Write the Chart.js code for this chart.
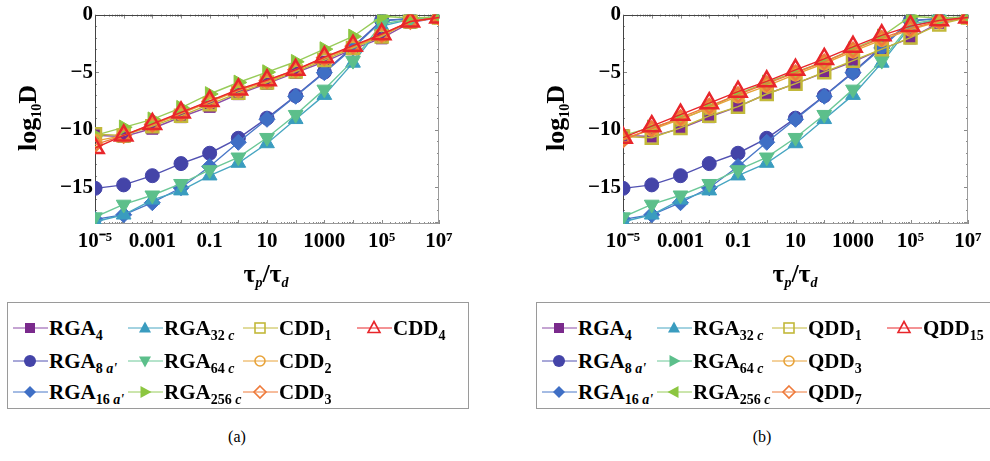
<!DOCTYPE html>
<html><head><meta charset="utf-8">
<script src="https://cdn.jsdelivr.net/npm/chart.js@4"></script>
<style>
body{margin:0;width:990px;height:461px;background:#fff;position:relative;overflow:hidden;font-family:"Liberation Serif","Times New Roman",serif;color:#000;}
canvas.cv{position:absolute;top:0;}
.ytitle{position:absolute;font-weight:bold;font-size:26px;transform:translate(-50%,-50%) rotate(-90deg);white-space:nowrap;}
.xtitle{position:absolute;font-weight:bold;font-size:26px;transform:translate(-50%,-50%);white-space:nowrap;}
.xtitle i{font-style:italic}
.box{position:absolute;top:302px;height:107px;border:1px solid #9a9a9a;box-sizing:border-box;}
.item{position:absolute;height:30px;display:flex;align-items:center;font-weight:bold;font-size:21px;white-space:nowrap;transform:translateY(-50%);}
.item svg{margin-right:1px;flex:none}
.item span{display:inline-block;line-height:24px}
sub{font-size:14px;vertical-align:-5px;line-height:0}
.cap{position:absolute;font-size:16px;transform:translate(-50%,-50%)}
</style></head>
<body>
<canvas id="ca" class="cv" width="460" height="260" style="left:0px"></canvas>
<canvas id="cb" class="cv" width="460" height="260" style="left:528px"></canvas>
<div class="ytitle" style="left:28px;top:118px">log<sub>10</sub>D</div>
<div class="ytitle" style="left:556px;top:118px">log<sub>10</sub>D</div>
<div class="xtitle" style="left:266px;top:274px">τ<sub><i>p</i></sub>/τ<sub><i>d</i></sub></div>
<div class="xtitle" style="left:795px;top:274px">τ<sub><i>p</i></sub>/τ<sub><i>d</i></sub></div>
<div class="box" style="left:7px;width:462px"></div>
<div class="box" style="left:536px;width:470px"></div>
<div id="legA"></div><div id="legB"></div>
<div class="cap" style="left:237px;top:437px">(a)</div>
<div class="cap" style="left:762px;top:437px">(b)</div>
<script>
// ---- data ----
const tauRatio = [1e-5,1e-4,1e-3,1e-2,1e-1,1,10,100,1000,1e4,1e5,1e6,1e7];
const xTickValues = [1e-5,1e-3,1e-1,10,1000,1e5,1e7];
const xTickLabels = ['10\u207B\u2075','0.001','0.1','10','1000','10\u2075','10\u2077'];
const yTickValues = [0,-5,-10,-15];
const yTickLabels = ['0','\u22125','\u221210','\u221215'];

const rga4    = [-10.5,-10.6,-9.9,-8.9,-8.0,-6.9,-6.0,-5.05,-4.1,-3.0,-2.05,-0.7,-0.25];
const rga8a   = [-15.1,-14.8,-14.0,-12.95,-12.05,-10.75,-9.0,-7.05,-5.0,-2.8,-0.5,-0.35,-0.2];
const rga16a  = [-17.8,-17.4,-16.35,-15.05,-13.2,-11.1,-9.1,-7.1,-5.05,-2.9,-0.55,-0.35,-0.2];
const rga32c  = [-18.0,-17.4,-16.1,-15.3,-14.0,-12.9,-11.2,-9.1,-7.0,-4.2,-1.0,-0.4,-0.2];
const rga64c  = [-17.6,-16.5,-15.7,-14.7,-13.5,-12.4,-10.7,-8.7,-6.5,-4.0,-0.8,-0.4,-0.2];
const rga256c = [-10.5,-9.8,-9.1,-8.1,-6.9,-5.9,-5.0,-4.1,-3.0,-1.9,-0.15,-0.3,-0.2];
const cdd1    = [-10.4,-10.5,-9.7,-8.8,-7.8,-6.8,-5.9,-4.95,-3.95,-2.9,-1.9,-0.6,-0.25];
const cdd2    = [-11.0,-10.5,-9.6,-8.6,-7.6,-6.6,-5.8,-4.85,-3.8,-2.8,-1.8,-0.6,-0.25];
const cdd3    = [-11.3,-10.5,-9.55,-8.55,-7.55,-6.55,-5.75,-4.8,-3.75,-2.75,-1.75,-0.6,-0.25];
const cdd4    = [-11.6,-10.5,-9.5,-8.5,-7.5,-6.5,-5.7,-4.8,-3.7,-2.7,-1.7,-0.6,-0.25];
const qdd1    = [-10.6,-10.7,-9.85,-8.8,-8.0,-6.9,-6.0,-5.0,-4.0,-3.0,-2.0,-0.85,-0.25];
const qdd3    = [-10.8,-10.0,-9.1,-8.1,-7.1,-6.2,-5.2,-4.25,-3.2,-2.2,-1.3,-0.6,-0.25];
const qdd7    = [-10.9,-9.9,-8.95,-7.95,-6.95,-6.0,-5.05,-4.1,-3.05,-2.05,-1.2,-0.55,-0.25];
const qdd15   = [-10.7,-9.7,-8.7,-7.7,-6.7,-5.8,-4.8,-3.85,-2.8,-1.8,-1.0,-0.5,-0.25];

// ---- styles ----
const ST = {
  rga4:   {color:'#7A2A8C', line:'#8B4BA6', shape:'rect', rot:0, r:8, fill:true},
  rga8a:  {color:'#4444A8', line:'#5252B2', shape:'circle', rot:0, r:7, fill:true},
  rga16a: {color:'#3F6FC5', line:'#4A78C8', shape:'rectRot', rot:0, r:8, fill:true},
  rga32c: {color:'#3A9CBF', line:'#48A6C2', shape:'triangle', rot:0, r:8.5, fill:true},
  rga64c: {color:'#5CBF8B', line:'#6CC898', shape:'triangle', rot:180, r:8.5, fill:true},
  rga256c:{color:'#8CC640', line:'#98CC5A', shape:'triangle', rot:90, r:8.5, fill:true},
  o1:     {color:'#C2B83A', line:'#C2B83A', shape:'rect', rot:0, r:8.5, fill:false},
  o2:     {color:'#E8A33A', line:'#E8A33A', shape:'circle', rot:0, r:6, fill:false},
  o3:     {color:'#EE7A3A', line:'#EE7A3A', shape:'rectRot', rot:0, r:7, fill:false},
  o4:     {color:'#E8262B', line:'#E8262B', shape:'triangle', rot:0, r:10, fill:false}
};

const seriesA = [
  {label:'RGA4', data:rga4, st:ST.rga4},
  {label:'RGA8a', data:rga8a, st:ST.rga8a},
  {label:'RGA16a', data:rga16a, st:ST.rga16a},
  {label:'RGA32c', data:rga32c, st:ST.rga32c},
  {label:'RGA64c', data:rga64c, st:ST.rga64c},
  {label:'RGA256c', data:rga256c, st:ST.rga256c},
  {label:'CDD1', data:cdd1, st:ST.o1},
  {label:'CDD2', data:cdd2, st:ST.o2},
  {label:'CDD3', data:cdd3, st:ST.o3},
  {label:'CDD4', data:cdd4, st:ST.o4}
];
const seriesB = [
  {label:'RGA4', data:rga4, st:ST.rga4},
  {label:'RGA8a', data:rga8a, st:ST.rga8a},
  {label:'RGA16a', data:rga16a, st:ST.rga16a},
  {label:'RGA32c', data:rga32c, st:ST.rga32c},
  {label:'RGA64c', data:rga64c, st:ST.rga64c},
  {label:'RGA256c', data:rga256c, st:ST.rga256c},
  {label:'QDD1', data:qdd1, st:ST.o1},
  {label:'QDD3', data:qdd3, st:ST.o2},
  {label:'QDD7', data:qdd7, st:ST.o3},
  {label:'QDD15', data:qdd15, st:ST.o4}
];

const framePlugin = {
  id:'frame',
  beforeDatasetsDraw(chart){
    const {ctx, chartArea:a, scales:{x,y}} = chart;
    ctx.save();
    ctx.lineWidth = 1;
    ctx.strokeStyle = '#8a8a8a';
    const ln=(x1,y1,x2,y2)=>{ctx.beginPath();ctx.moveTo(x1,y1);ctx.lineTo(x2,y2);ctx.stroke();};
    for(let e=-5;e<=7;e++){
      for(let m=1;m<10;m++){
        const v=m*Math.pow(10,e);
        if(v>1.0001e7) break;
        const px=Math.round(x.getPixelForValue(v))+0.5;
        const len = m===1?4:2;
        ln(px,a.top,px,a.top+len); ln(px,a.bottom,px,a.bottom-len);
      }
    }
    for(let v=0; v>=-18; v--){
      const py=Math.round(y.getPixelForValue(v))+0.5;
      const len = v%5===0?4:2;
      ln(a.left,py,a.left+len,py); ln(a.right,py,a.right-len,py);
    }
    const L=Math.round(a.left)+0.5, R=Math.round(a.right)-0.5, T=Math.round(a.top)+0.5, B=Math.round(a.bottom)-0.5;
    ctx.strokeStyle='#9a9a9a'; ln(R,T,R,B); ln(L,B,R,B);
    ctx.strokeStyle='#444'; ln(L,T,R,T); ln(L,T,L,B);
    ctx.restore();
  }
};

function idxOfLog(arr,v){ for(let i=0;i<arr.length;i++){ if(Math.abs(Math.log10(arr[i])-Math.log10(v))<1e-6) return i; } return -1; }

function makeChart(id, series, padRight){
  return new Chart(document.getElementById(id), {
    type:'line',
    data:{datasets: series.map((s,i)=>({
      label:s.label,
      data: tauRatio.map((t,k)=>({x:t, y:s.data[k]})),
      borderColor:s.st.line,
      backgroundColor: s.st.fill ? s.st.color : 'rgba(0,0,0,0)',
      pointBackgroundColor: s.st.fill ? s.st.color : 'rgba(0,0,0,0)',
      pointBorderColor: s.st.color,
      pointBorderWidth: s.st.fill ? 1 : 2.5,
      pointStyle: s.st.shape,
      pointRotation: s.st.rot,
      pointRadius: s.st.r,
      borderWidth: 1.4,
      tension: 0,
      fill: false,
      clip: 0,
      order: series.length - i
    }))},
    options:{
      responsive:false, animation:false, events:[],
      layout:{padding:{top:12, right:padRight, left:0, bottom:0}},
      plugins:{legend:{display:false}, tooltip:{enabled:false}},
      scales:{
        x:{type:'logarithmic', min:1e-5, max:1e7,
           grid:{display:false, drawTicks:false}, border:{display:false},
           afterBuildTicks(sc){ sc.ticks = xTickValues.map(v=>({value:v, major:true})); },
           afterFit(sc){ sc.height = 36; },
           ticks:{autoSkip:false, maxRotation:0, minRotation:0, padding:5, color:'#000',
             font:{family:'Liberation Serif', size:21, weight:'bold'},
             callback:(v)=>{ const i=idxOfLog(xTickValues,v); return i>=0?xTickLabels[i]:''; }}
        },
        y:{type:'linear', min:-18.2, max:0,
           grid:{display:false, drawTicks:false}, border:{display:false},
           afterBuildTicks(sc){ sc.ticks = yTickValues.map(v=>({value:v})); },
           afterFit(sc){ sc.width = 95; },
           ticks:{padding:2, color:'#000', font:{family:'Liberation Serif', size:21, weight:'bold'},
             callback:(v)=>{ const i=yTickValues.indexOf(v); return i>=0?yTickLabels[i]:''; }}
        }
      }
    },
    plugins:[framePlugin]
  });
}

makeChart('ca', seriesA, 21);
makeChart('cb', seriesB, 20);

// ---- legends ----
function symbolSVG(st, shapeOverride, rotOverride){
  const shape = shapeOverride || st.shape;
  const rot = rotOverride!==undefined ? rotOverride : st.rot;
  const fill = st.fill ? st.color : 'none';
  const sw = st.fill ? 0 : 1.6;
  let mark='';
  const cx=17, cy=15;
  if(shape==='rect') mark=`<rect x="${cx-5}" y="${cy-5}" width="10" height="10" fill="${fill}" stroke="${st.color}" stroke-width="${sw}"/>`;
  else if(shape==='circle') mark=`<circle cx="${cx}" cy="${cy}" r="${st.fill?6:5}" fill="${fill}" stroke="${st.color}" stroke-width="${sw}"/>`;
  else if(shape==='rectRot') mark=`<polygon points="${cx},${cy-6} ${cx+6},${cy} ${cx},${cy+6} ${cx-6},${cy}" fill="${fill}" stroke="${st.color}" stroke-width="${sw}"/>`;
  else if(shape==='triangle') mark=`<polygon transform="rotate(${rot} ${cx} ${cy})" points="${cx},${cy-6.5} ${cx+6},${cy+4.5} ${cx-6},${cy+4.5}" fill="${fill}" stroke="${st.color}" stroke-width="${sw}"/>`;
  return `<svg width="35" height="30" viewBox="0 0 35 30"><line x1="0" y1="15" x2="35" y2="15" stroke="${st.line}" stroke-width="1"/>${mark}</svg>`;
}
function buildLegend(elId, items){
  const el=document.getElementById(elId);
  el.innerHTML = items.map(it=>`<div class="item" style="left:${it.x}px;top:${it.y}px">${symbolSVG(it.st,it.shape,it.rot)}<span>${it.html}</span></div>`).join('');
}
const rowsY=[328,361,392];
const colsA=[13,128,243,357];
const colsB=[542,657,772,887];
const legTextA=[
  ['RGA<sub>4</sub>','RGA<sub>32 <i>c</i></sub>','CDD<sub>1</sub>','CDD<sub>4</sub>'],
  ['RGA<sub>8 <i>a\'</i></sub>','RGA<sub>64 <i>c</i></sub>','CDD<sub>2</sub>'],
  ['RGA<sub>16 <i>a\'</i></sub>','RGA<sub>256 <i>c</i></sub>','CDD<sub>3</sub>']
];
const legTextB=[
  ['RGA<sub>4</sub>','RGA<sub>32 <i>c</i></sub>','QDD<sub>1</sub>','QDD<sub>15</sub>'],
  ['RGA<sub>8 <i>a\'</i></sub>','RGA<sub>64 <i>c</i></sub>','QDD<sub>3</sub>'],
  ['RGA<sub>16 <i>a\'</i></sub>','RGA<sub>256 <i>c</i></sub>','QDD<sub>7</sub>']
];
const legStyles=[
  [ST.rga4, ST.rga32c, ST.o1, ST.o4],
  [ST.rga8a, ST.rga64c, ST.o2],
  [ST.rga16a, ST.rga256c, ST.o3]
];
function legendItems(cols, texts, bOverrides){
  const out=[];
  texts.forEach((row,r)=>row.forEach((h,c)=>{
    const o = bOverrides && bOverrides[r+','+c] || {};
    out.push({x:cols[c], y:rowsY[r], st:legStyles[r][c], html:h, shape:o.shape, rot:o.rot});
  }));
  return out;
}
buildLegend('legA', legendItems(colsA, legTextA));
buildLegend('legB', legendItems(colsB, legTextB, {'1,1':{shape:'triangle',rot:90}, '2,1':{shape:'triangle',rot:-90}}));
</script>
</body></html>
